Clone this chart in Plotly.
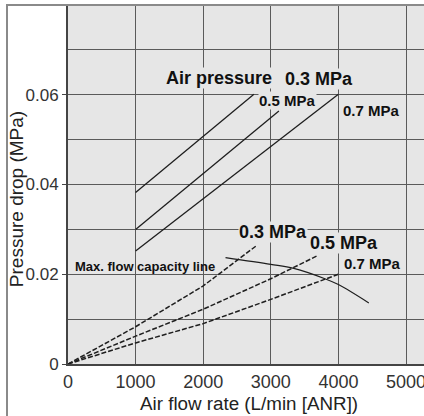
import plotly.graph_objects as go

# ---- data ----
solid_03_x = [1000, 2750]
solid_03_y = [0.0382, 0.0601]
solid_05_x = [1000, 3120]
solid_05_y = [0.0300, 0.0564]
solid_07_x = [1000, 4000]
solid_07_y = [0.0252, 0.0601]

dash_03_x = [0, 1000, 2000, 2800]
dash_03_y = [0, 0.0083, 0.0174, 0.0265]
dash_05_x = [0, 1000, 2000, 3000, 3700]
dash_05_y = [0, 0.0062, 0.0122, 0.0190, 0.0242]
dash_07_x = [0, 1000, 2000, 3000, 4000]
dash_07_y = [0, 0.0047, 0.0090, 0.0144, 0.0200]

maxflow_x = [2330, 3000, 3340, 3800, 4000, 4450]
maxflow_y = [0.0237, 0.0222, 0.0213, 0.0190, 0.0177, 0.0136]

x_ticks = [0, 1000, 2000, 3000, 4000, 5000]
x_ticktext = ["0", "1000", "2000", "3000", "4000", "5000"]
y_ticks = [0, 0.02, 0.04, 0.06]
y_ticktext = ["0", "0.02", "0.04", "0.06"]

x_title = "Air flow rate (L/min [ANR])"
y_title = "Pressure drop (MPa)"

PLOT_BG = "#e6e6e6"
LINE = "#1e1e1e"
GRID = "#5a5a5a"

fig = go.Figure()

for xs, ys in [(solid_03_x, solid_03_y), (solid_05_x, solid_05_y), (solid_07_x, solid_07_y)]:
    fig.add_trace(go.Scatter(x=xs, y=ys, mode="lines",
                             line=dict(color=LINE, width=1.3), showlegend=False))
for xs, ys in [(dash_03_x, dash_03_y), (dash_05_x, dash_05_y), (dash_07_x, dash_07_y)]:
    fig.add_trace(go.Scatter(x=xs, y=ys, mode="lines",
                             line=dict(color=LINE, width=1.5, dash="5px,2px"), showlegend=False))
fig.add_trace(go.Scatter(x=maxflow_x, y=maxflow_y, mode="lines", line_shape="spline",
                         line=dict(color=LINE, width=1.2), showlegend=False))

FAM = "Liberation Sans"

def label(text, x, y, size, bg=True):
    fig.add_annotation(x=x, y=y, text="<b>%s</b>" % text, showarrow=False,
                       font=dict(family=FAM, size=size, color="#111"),
                       bgcolor=PLOT_BG if bg else None, borderpad=0,
                       xanchor="center", yanchor="middle")

label("Air pressure", 2241, 0.0637, 18)
label("0.3 MPa", 3713, 0.0635, 18)
label("0.5 MPa", 3247, 0.0588, 15)
label("0.7 MPa", 4490, 0.0566, 15)
label("0.3 MPa", 3033, 0.0294, 18)
label("0.5 MPa", 4090, 0.0269, 18)
label("0.7 MPa", 4497, 0.0225, 15)
label("Max. flow capacity line", 1139, 0.0218, 13, bg=False)

# axis titles
fig.add_annotation(xref="paper", yref="paper", x=0.5, y=-0.111, text=x_title,
                   showarrow=False, font=dict(family=FAM, size=18.8, color="#222"),
                   xanchor="center", yanchor="middle")
fig.add_annotation(xref="paper", yref="paper", x=-0.14, y=0.46, text=y_title,
                   textangle=-90, showarrow=False, font=dict(family=FAM, size=19, color="#222"),
                   xanchor="center", yanchor="middle")

# outer frame (left & top) in paper coordinates
fig.add_shape(type="path", xref="paper", yref="paper",
              path="M -0.1685,-0.2 L -0.1685,1.0 L 1.1,1.0",
              line=dict(color="#8a8a8a", width=2))

fig.update_layout(
    width=430, height=416,
    margin=dict(l=68, r=0, t=5, b=52),
    paper_bgcolor="white", plot_bgcolor=PLOT_BG,
    font=dict(family=FAM, size=18, color="#333"),
    xaxis=dict(range=[0, 5355], tickvals=x_ticks, ticktext=x_ticktext,
               showgrid=True, gridcolor=GRID, gridwidth=1.2,
               showline=True, linecolor="#444", linewidth=2,
               zeroline=False, ticks="", ticklabeloverflow="allow",
               tickfont=dict(size=18, color="#333")),
    yaxis=dict(range=[0, 0.08], tickvals=y_ticks, ticktext=y_ticktext,
               showgrid=True, gridcolor=GRID, gridwidth=1.2,
               minor=dict(dtick=0.01, tick0=0, showgrid=True, gridcolor=GRID, gridwidth=1.2, ticks=""),
               showline=True, linecolor="#444", linewidth=2,
               zeroline=False, ticks="outside", ticklen=4, tickcolor="#444",
               tickfont=dict(size=17, color="#333")),
)

fig.write_html("out.html", config={"displayModeBar": False},
               post_script="document.body.style.margin='0';document.body.style.overflow='hidden';")
